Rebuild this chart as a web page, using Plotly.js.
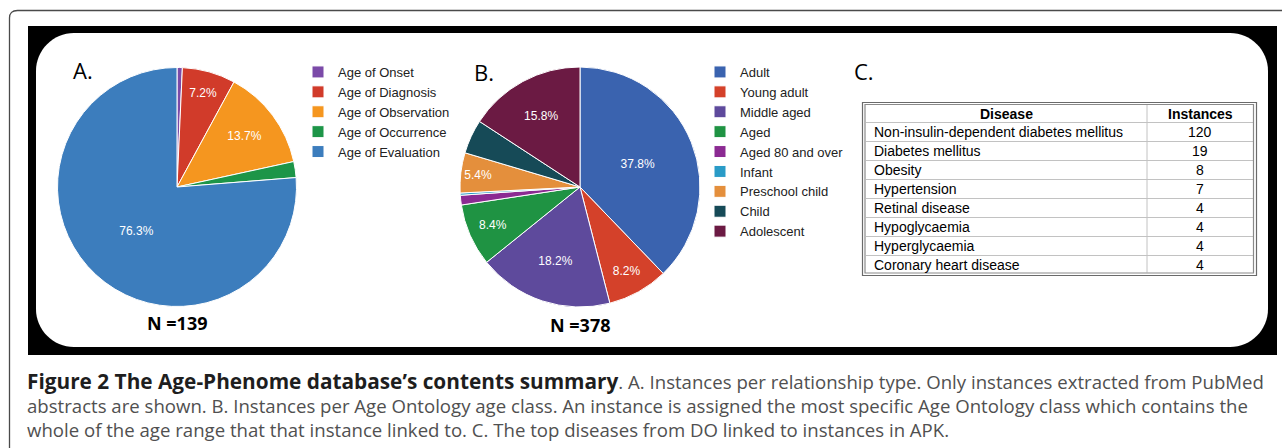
<!DOCTYPE html>
<html><head><meta charset="utf-8">
<script src="https://cdn.plot.ly/plotly-3.0.1.min.js"></script>
<style>html,body{margin:0;padding:0;background:#fff;overflow:hidden}</style>
</head><body><div id="chart" style="width:1282px;height:448px"></div>
<script>
// ---------- data ----------
// Panel A: instances per relationship type (N = 139)
const relationTypes = ['Age of Onset', 'Age of Diagnosis', 'Age of Observation', 'Age of Occurrence', 'Age of Evaluation'];
const relationCounts = [1, 10, 19, 3, 106];
const relationColors = ['#7b4aa8', '#d13b2a', '#f5961f', '#1d9548', '#3c7dbd'];
const totalA = 139;

// Panel B: instances per Age Ontology age class (N = 378), shares in %
const ageClasses = ['Adult', 'Young adult', 'Middle aged', 'Aged', 'Aged 80 and over', 'Infant', 'Preschool child', 'Child', 'Adolescent'];
const ageClassShares = [37.8, 8.2, 18.2, 8.4, 1.3, 0.3, 5.4, 4.6, 15.8];
const ageClassColors = ['#3a63af', '#d4412a', '#5e4a9c', '#1f9343', '#8b2a92', '#2a9bc7', '#e48f3c', '#164a57', '#6b1a43'];
const totalB = 378;

// Panel C: top diseases linked to instances
const tableHeader = ['Disease', 'Instances'];
const diseases = ['Non-insulin-dependent diabetes mellitus', 'Diabetes mellitus', 'Obesity', 'Hypertension', 'Retinal disease', 'Hypoglycaemia', 'Hyperglycaemia', 'Coronary heart disease'];
const diseaseInstances = [120, 19, 8, 7, 4, 4, 4, 4];

// caption
const captionBold = 'Figure 2 The Age-Phenome database\u2019s contents summary';
const captionLines = [
  '. A. Instances per relationship type. Only instances extracted from PubMed',
  'abstracts are shown. B. Instances per Age Ontology age class. An instance is assigned the most specific Age Ontology class which contains the',
  'whole of the age range that that instance linked to. C. The top diseases from DO linked to instances in APK.'
];

// ---------- helpers (pixel -> paper) ----------
const W = 1282, H = 448;
const X = px => px / W;
const Y = py => 1 - py / H;
function pathFrom(cmds) {
  return cmds.map(c => c[0] + (c.length > 1 ? ' ' + c.slice(1).map((v, i) => (i % 2 === 0 ? X(v) : Y(v)).toFixed(6)).join(',') : '')).join(' ');
}
function roundRect(x0, y0, x1, y1, r) {
  const k = 0.5523 * r;
  return pathFrom([
    ['M', x0 + r, y0], ['L', x1 - r, y0],
    ['C', x1 - r + k, y0, x1, y0 + r - k, x1, y0 + r],
    ['L', x1, y1 - r],
    ['C', x1, y1 - r + k, x1 - r + k, y1, x1 - r, y1],
    ['L', x0 + r, y1],
    ['C', x0 + r - k, y1, x0, y1 - r + k, x0, y1 - r],
    ['L', x0, y0 + r],
    ['C', x0, y0 + r - k, x0 + r - k, y0, x0 + r, y0],
    ['Z']
  ]);
}
function labelTemplates(vals) {
  const s = vals.reduce((a, b) => a + b, 0);
  return vals.map(v => (v / s >= 0.05 ? '%{percent:.1%}' : ''));
}

// ---------- pie traces ----------
const pieCommon = {
  type: 'pie', sort: false, direction: 'clockwise', rotation: 0,
  textposition: 'inside', insidetextorientation: 'horizontal',
  textfont: {family: 'Arial, Liberation Sans, sans-serif', size: 12, color: '#ffffff'},
  hoverinfo: 'label+value+percent'
};
const pieA = Object.assign({}, pieCommon, {
  labels: relationTypes, values: relationCounts,
  marker: {colors: relationColors, line: {color: '#ffffff', width: 1}},
  texttemplate: labelTemplates(relationCounts),
  domain: {x: [X(57.5), X(296.5)], y: [Y(306.5), Y(67.5)]},
  legend: 'legend'
});
const pieB = Object.assign({}, pieCommon, {
  labels: ageClasses, values: ageClassShares,
  marker: {colors: ageClassColors, line: {color: '#ffffff', width: 1}},
  texttemplate: labelTemplates(ageClassShares),
  domain: {x: [X(460), X(700)], y: [Y(307), Y(67)]},
  legend: 'legend2'
});

// ---------- table (panel C) geometry ----------
const tbl = {left: 866, split: 1147, right: 1253, top: 104.5, headerBottom: 122, rowH: 19, bottom: 272.5};
const rowTop = i => tbl.headerBottom + tbl.rowH * i;
const gridColor = '#c2c2c2';

const shapes = [
  // outer frame
  {type: 'path', layer: 'below',
   path: pathFrom([['M', 9.5, 460], ['L', 9.5, 18], ['Q', 9.5, 10.5, 17.5, 10.5], ['L', 1300, 10.5]]),
   line: {color: '#4a4a4a', width: 1.3}},
  // black backdrop
  {type: 'rect', layer: 'below',
   x0: X(28), x1: X(1277), y0: Y(355), y1: Y(26), fillcolor: '#000000', line: {width: 0}},
  // white rounded panel
  {type: 'path', layer: 'below',
   path: roundRect(36, 33, 1268, 347, 38), fillcolor: '#ffffff', line: {width: 0}},
  // table column separator
  {type: 'line', layer: 'above', x0: X(tbl.split), x1: X(tbl.split), y0: Y(tbl.top), y1: Y(tbl.bottom),
   line: {color: gridColor, width: 1}}
];
// table row separators (header bottom + between data rows)
diseases.forEach((d, i) => {
  shapes.push({type: 'line', layer: 'above', x0: X(tbl.left), x1: X(tbl.right),
    y0: Y(rowTop(i) + 0.5), y1: Y(rowTop(i) + 0.5), line: {color: gridColor, width: 1}});
});
// table outer double border
shapes.push({type: 'rect', layer: 'above',
  x0: X(862.5), x1: X(1256.5), y0: Y(275.5), y1: Y(102.5), line: {color: '#6a6a6a', width: 1.2}});
shapes.push({type: 'rect', layer: 'above',
  x0: X(865), x1: X(1253.5), y0: Y(273), y1: Y(104.5), line: {color: '#8a8a8a', width: 1.2}});
shapes.forEach(s => { s.xref = 'paper'; s.yref = 'paper'; });

// ---------- annotations ----------
const letterFont = {family: 'Open Sans, sans-serif', size: 22, color: '#000000'};
const nFont = {family: 'Open Sans, sans-serif', size: 18, color: '#000000', weight: 700};
const capFont = {family: 'Open Sans, sans-serif', size: 18.6, color: '#505050'};
const tableFont = {family: 'Arial, Liberation Sans, sans-serif', size: 14, color: '#000000'};
const tableHeadFont = Object.assign({}, tableFont, {weight: 700});

const captionText =
  '<span style="font-weight:bold;font-size:20.8px;fill:#1e1e1e">' + captionBold + '</span>' + captionLines[0] +
  '<br>' + captionLines[1] + '<br>' + captionLines[2];

const annotations = [
  {text: 'A.', x: X(71), y: Y(70), xanchor: 'left', yanchor: 'middle', font: letterFont},
  {text: 'B.', x: X(472), y: Y(72), xanchor: 'left', yanchor: 'middle', font: letterFont},
  {text: 'C.', x: X(852), y: Y(71), xanchor: 'left', yanchor: 'middle', font: letterFont},
  {text: 'N =' + totalA, x: X(177), y: Y(323), xanchor: 'center', yanchor: 'middle', font: nFont},
  {text: 'N =' + totalB, x: X(580), y: Y(325), xanchor: 'center', yanchor: 'middle', font: nFont},
  {text: captionText, x: X(25), y: Y(404), xanchor: 'left', yanchor: 'middle', align: 'left', font: capFont}
];
// table header
annotations.push({text: tableHeader[0], x: X((tbl.left + tbl.split) / 2), y: Y((tbl.top + tbl.headerBottom) / 2 + 0.5),
  xanchor: 'center', yanchor: 'middle', font: tableHeadFont});
annotations.push({text: tableHeader[1], x: X((tbl.split + tbl.right) / 2), y: Y((tbl.top + tbl.headerBottom) / 2 + 0.5),
  xanchor: 'center', yanchor: 'middle', font: tableHeadFont});
// table body
diseases.forEach((d, i) => {
  annotations.push({text: d, x: X(tbl.left + 6), y: Y(rowTop(i) + tbl.rowH / 2 + 0.8),
    xanchor: 'left', yanchor: 'middle', font: tableFont});
  annotations.push({text: String(diseaseInstances[i]), x: X((tbl.split + tbl.right) / 2), y: Y(rowTop(i) + tbl.rowH / 2 + 0.8),
    xanchor: 'center', yanchor: 'middle', font: tableFont});
});
annotations.forEach(a => Object.assign(a, {xref: 'paper', yref: 'paper', showarrow: false}));

// ---------- layout ----------
const legendCommon = {
  xanchor: 'left', yanchor: 'top', bgcolor: 'rgba(0,0,0,0)', borderwidth: 0,
  font: {family: 'Arial, Liberation Sans, sans-serif', size: 13, color: '#222222'},
  traceorder: 'normal', itemclick: false, itemdoubleclick: false
};
const layout = {
  width: W, height: H,
  margin: {l: 0, r: 0, t: 0, b: 0},
  paper_bgcolor: '#ffffff', plot_bgcolor: '#ffffff',
  showlegend: true,
  legend: Object.assign({x: X(298), y: Y(57)}, legendCommon),
  legend2: Object.assign({x: X(700), y: Y(57)}, legendCommon),
  shapes: shapes,
  annotations: annotations
};

Plotly.newPlot('chart', [pieA, pieB], layout, {displayModeBar: false});
</script>
</body></html>
